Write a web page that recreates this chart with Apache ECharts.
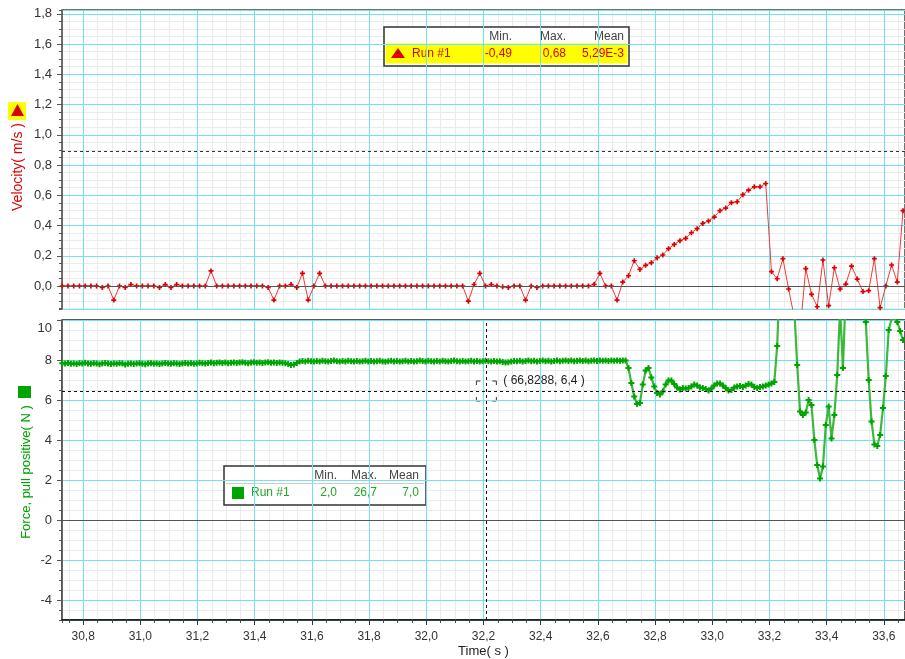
<!DOCTYPE html>
<html>
<head>
<meta charset="utf-8">
<script src="https://cdn.jsdelivr.net/npm/echarts@6/dist/echarts.min.js"></script>
<style>
html, body { margin: 0; padding: 0; background: #fff; }
#main { width: 905px; height: 659px; }
</style>
</head>
<body>
<div id="main"></div>
<script>
// sample clock of the logger
var timeStart = 30.727;
var velStep = 0.02;
var forceStep = 0.01;

// Velocity (m/s), one value per 0.02 s
var velocity = [
	0, 0, 0, 0, 0, 0, 0, -0.01, 0, -0.093,
	0, -0.01, 0.01, 0, 0, 0, 0, -0.01, 0.01, -0.01,
	0.01, 0, 0, 0, 0, 0, 0.10, 0, 0, 0,
	0, 0, 0, 0, 0, 0, -0.01, -0.093, 0, 0,
	0.01, -0.01, 0.084, -0.093, 0, 0.084, 0, 0, 0, 0,
	0, 0, 0, 0, 0, 0, 0, 0, 0, 0,
	0, 0, 0, 0, 0, 0, 0, 0, 0, 0,
	0, -0.10, 0.01, 0.084, 0, 0.01, 0, -0.005, -0.01, 0,
	0, -0.093, 0, -0.01, 0, 0, 0, 0, 0, 0,
	0, 0, 0, 0.011, 0.084, 0, 0, -0.093, 0.026, 0.068,
	0.167, 0.110, 0.137, 0.154, 0.187, 0.205, 0.247, 0.275, 0.300, 0.315,
	0.352, 0.379, 0.414, 0.430, 0.456, 0.498, 0.515, 0.551, 0.557, 0.604,
	0.634, 0.656, 0.656, 0.678, 0.095, 0.048, 0.181, -0.02, -0.21, -0.30,
	0.115, -0.055, -0.137, 0.172, -0.13, 0.121, -0.02, 0.013, 0.132, 0.046,
	-0.037, -0.031, 0.181, -0.143, 0.0, 0.139, 0.026, 0.498
];

// Force, pull positive (N), one value per 0.01 s
var force = [
	7.84, 7.82, 7.85, 7.81, 7.83, 7.80, 7.84, 7.82, 7.86, 7.83,
	7.81, 7.84, 7.82, 7.79, 7.83, 7.85, 7.82, 7.80, 7.83, 7.81,
	7.84, 7.82, 7.78, 7.81, 7.83, 7.80, 7.82, 7.84, 7.81, 7.79,
	7.82, 7.84, 7.81, 7.83, 7.80, 7.82, 7.85, 7.83, 7.81, 7.84,
	7.82, 7.80, 7.83, 7.85, 7.82, 7.84, 7.81, 7.83, 7.86, 7.84,
	7.82, 7.85, 7.87, 7.84, 7.86, 7.88, 7.85, 7.87, 7.84, 7.86,
	7.88, 7.85, 7.87, 7.89, 7.86, 7.84, 7.87, 7.89, 7.86, 7.88,
	7.85, 7.87, 7.89, 7.86, 7.88, 7.85, 7.87, 7.86, 7.84, 7.80,
	7.75, 7.77, 7.85, 7.92, 7.95, 7.93, 7.96, 7.94, 7.92, 7.95,
	7.93, 7.96, 7.94, 7.92, 7.95, 7.97, 7.94, 7.92, 7.95, 7.93,
	7.96, 7.94, 7.93, 7.95, 7.92, 7.94, 7.96, 7.93, 7.95, 7.92,
	7.94, 7.96, 7.93, 7.91, 7.94, 7.96, 7.93, 7.95, 7.92, 7.94,
	7.96, 7.93, 7.95, 7.92, 7.94, 7.97, 7.95, 7.93, 7.96, 7.94,
	7.92, 7.95, 7.93, 7.96, 7.94, 7.92, 7.95, 7.97, 7.94, 7.93,
	7.95, 7.92, 7.94, 7.96, 7.93, 7.95, 7.92, 7.94, 7.96, 7.94,
	7.93, 7.95, 7.92, 7.94, 7.90, 7.87, 7.89, 7.93, 7.95, 7.94,
	7.96, 7.93, 7.95, 7.97, 7.94, 7.96, 7.93, 7.95, 7.97, 7.94,
	7.96, 7.93, 7.95, 7.97, 7.94, 7.96, 7.98, 7.95, 7.97, 7.94,
	7.96, 7.98, 7.95, 7.97, 7.94, 7.96, 7.98, 7.95, 7.97, 7.96,
	7.98, 7.95, 7.97, 7.96, 7.98, 7.96, 7.97, 7.97, 7.60, 6.85,
	6.18, 5.80, 5.85, 6.77, 7.47, 7.60, 7.13, 6.68, 6.35, 6.27,
	6.43, 6.77, 6.98, 6.97, 6.80, 6.63, 6.52, 6.60, 6.57, 6.60,
	6.68, 6.77, 6.72, 6.63, 6.60, 6.55, 6.47, 6.57, 6.72, 6.82,
	6.83, 6.72, 6.60, 6.48, 6.50, 6.63, 6.68, 6.70, 6.65, 6.72,
	6.80, 6.77, 6.65, 6.60, 6.65, 6.68, 6.72, 6.77, 6.82, 6.90,
	8.70, 12.5, 14.0, 14.5, 13.5, 12.0, 10.5, 7.75, 5.42, 5.25,
	5.38, 6.00, 5.75, 4.00, 2.75, 2.08, 2.67, 4.75, 5.67, 4.08,
	5.25, 7.25, 10.6, 7.60, 11.5, 14.0, 15.0, 15.0, 14.0, 12.5,
	11.0, 9.90, 7.00, 4.92, 3.78, 3.70, 4.25, 5.60, 7.20, 9.50,
	10.05, 10.1, 9.90, 9.45, 9.00
];

var xRange = [30.726, 33.674];
var velRange = [-0.152, 1.825];
var forceRange = [-5, 10];
var velCursor = 0.892;
var cursorPoint = [32.21, 6.45];
var cursorText = '( 66,8288, 6,4 )';

var statHeads = ['Min.', 'Max.', 'Mean'];
var velStats = ['-0,49', '0,68', '5,29E-3'];
var forceStats = ['2,0', '26,7', '7,0'];
var runName = 'Run #1';
var velName = 'Velocity( m/s )';
var forceName = 'Force, pull positive( N )';
var timeName = 'Time( s )';

var RED = '#e00000';
var GREEN = '#00a400';
var CYAN = '#72e2ee';
var MINOR = '#ebebeb';
var FONT = '"Liberation Sans", Arial, sans-serif';
var plus = 'path://M2,0H4V2H6V4H4V6H2V4H0V2H2Z';

var velData = velocity.map(function(v, i){ return [timeStart + i * velStep, v]; });
var forceData = force.map(function(v, i){ return [timeStart + i * forceStep, v]; });

function comma1(v){ return v.toFixed(1).replace('.', ','); }

function minorX(grid, ticks){
	return {
		type: 'value', gridIndex: grid, position: 'bottom', min: xRange[0], max: xRange[1],
		splitNumber: 59, z: 0,
		axisLine: {show: false, onZero: false},
		axisTick: {show: ticks, length: 3, lineStyle: {color: '#555'}},
		axisLabel: {show: false},
		splitLine: {show: true, lineStyle: {color: MINOR, width: 1}}
	};
}
function minorY(grid, range, n){
	return {
		type: 'value', gridIndex: grid, position: 'left', min: range[0], max: range[1],
		splitNumber: n, z: 0,
		axisLine: {show: false, onZero: false},
		axisTick: {show: true, length: 3, lineStyle: {color: '#555'}},
		axisLabel: {show: false},
		splitLine: {show: true, lineStyle: {color: MINOR, width: 1}}
	};
}

var myChart = echarts.init(document.getElementById('main'));

var option = {
	animation: false,
	backgroundColor: '#fff',
	grid: [
		{left: 62, top: 10, width: 843, height: 299, outerBoundsMode: 'none', containLabel: false,
			show: true, borderColor: '#444', borderWidth: 1.5},
		{left: 62, top: 320, width: 843, height: 300, outerBoundsMode: 'none', containLabel: false,
			show: true, borderColor: '#222', borderWidth: 1.5}
	],
	xAxis: [
		minorX(0, false),
		minorX(1, true),
		{
			type: 'value', gridIndex: 0, position: 'bottom', min: xRange[0], max: xRange[1],
			splitNumber: 14, z: 1,
			axisLine: {show: false, onZero: false},
			axisTick: {show: false},
			axisLabel: {show: false},
			splitLine: {show: true, lineStyle: {color: CYAN, width: 1}}
		},
		{
			type: 'value', gridIndex: 1, position: 'bottom', min: xRange[0], max: xRange[1],
			splitNumber: 14, z: 1,
			name: timeName, nameLocation: 'middle', nameGap: 25,
			nameTextStyle: {color: '#222', fontSize: 13, fontFamily: FONT},
			axisLine: {show: true, onZero: false, lineStyle: {color: '#111', width: 1.5}},
			axisTick: {show: true, length: 5, lineStyle: {color: '#333'}},
			axisLabel: {
				show: true, margin: 11, color: '#333', fontSize: 12, fontFamily: FONT,
				showMinLabel: false, showMaxLabel: false,
				formatter: comma1
			},
			splitLine: {show: true, lineStyle: {color: CYAN, width: 1}}
		}
	],
	yAxis: [
		minorY(0, velRange, 40),
		minorY(1, forceRange, 30),
		{
			type: 'value', gridIndex: 0, position: 'left', min: velRange[0], max: velRange[1],
			splitNumber: 10, z: 1,
			axisLine: {show: true, onZero: false, lineStyle: {color: '#666', width: 1}},
			axisTick: {show: true, length: 5, lineStyle: {color: '#555'}},
			axisLabel: {
				show: true, margin: 10, color: '#333', fontSize: 13, fontFamily: FONT,
				showMinLabel: false, showMaxLabel: false,
				formatter: comma1
			},
			splitLine: {show: true, lineStyle: {color: CYAN, width: 1}}
		},
		{
			type: 'value', gridIndex: 1, position: 'left', min: forceRange[0], max: forceRange[1],
			splitNumber: 7, z: 1,
			axisLine: {show: true, onZero: false, lineStyle: {color: '#666', width: 1}},
			axisTick: {show: true, length: 5, lineStyle: {color: '#555'}},
			axisLabel: {
				show: true, margin: 10, color: '#333', fontSize: 13, fontFamily: FONT,
				showMinLabel: false, showMaxLabel: true,
				// top label sits a little below the panel edge, as in the original
				formatter: function(v){ return v === forceRange[1] ? '{t|' + v + '}' : String(v); },
				rich: {t: {padding: [16, 0, 0, 0], color: '#333', fontSize: 13, fontFamily: FONT}}
			},
			splitLine: {show: true, lineStyle: {color: CYAN, width: 1}}
		}
	],
	series: [
		{
			type: 'line', name: 'Velocity', xAxisIndex: 2, yAxisIndex: 2,
			data: velData, z: 3,
			symbol: plus, symbolSize: 5, showSymbol: true,
			lineStyle: {color: '#ee3a3a', width: 1},
			itemStyle: {color: '#dd0000'},
			markLine: {
				silent: true, symbol: 'none', label: {show: false}, animation: false,
				data: [
					{yAxis: 0, lineStyle: {color: '#555', type: 'solid', width: 1.2}},
					{yAxis: velCursor, lineStyle: {color: '#333', type: [3, 3], width: 1}}
				]
			}
		},
		{
			type: 'line', name: 'Force', xAxisIndex: 3, yAxisIndex: 3,
			data: forceData, z: 3,
			symbol: plus, symbolSize: 6, showSymbol: true,
			lineStyle: {color: '#3cb83c', width: 2.2},
			itemStyle: {color: GREEN},
			markLine: {
				silent: true, symbol: 'none', label: {show: false}, animation: false,
				data: [
					{yAxis: 0, lineStyle: {color: '#555', type: 'solid', width: 1.2}},
					{yAxis: cursorPoint[1], lineStyle: {color: '#111', type: [3, 3], width: 1}},
					{xAxis: cursorPoint[0], lineStyle: {color: '#111', type: [3, 3], width: 1}}
				]
			}
		}
	]
};
myChart.setOption(option);

// legends, axis names and axis icons
function statBox(x, y, w, stats, cols, color, rowFill, icon){
	var kids = [
		{type: 'rect', shape: {x: x, y: y, width: w, height: 39}, style: {fill: '#fff', stroke: '#333', lineWidth: 1.5}},
		{type: 'rect', shape: {x: x + 2, y: y + 17, width: w - 4, height: 19}, style: {fill: rowFill, stroke: rowFill === '#fff' ? null : rowFill}},
		{type: 'text', x: x + cols[3], y: y + 26.5, style: {text: runName, fill: color, font: '12px ' + FONT, verticalAlign: 'middle'}},
		icon
	];
	for (var k = 0; k < 3; k++) {
		kids.push({type: 'text', x: x + cols[k], y: y + 10, style: {text: statHeads[k], fill: '#444', font: '12px ' + FONT, align: 'right', verticalAlign: 'middle'}});
		kids.push({type: 'text', x: x + cols[k], y: y + 26.5, style: {text: stats[k], fill: color, font: '12px ' + FONT, align: 'right', verticalAlign: 'middle'}});
	}
	return {type: 'group', children: kids};
}

var graphics = [
	statBox(384, 27, 245, velStats, [128, 182, 240, 28], RED, '#ffff00',
		{type: 'polygon', shape: {points: [[391, 58], [405, 58], [398, 48]]}, style: {fill: '#dd0000'}}),
	statBox(224, 466, 202, forceStats, [113, 153, 195, 27], '#22a822', '#fff',
		{type: 'rect', shape: {x: 232, y: 487, width: 12, height: 12}, style: {fill: GREEN}}),
	{type: 'line', shape: {x1: 226, y1: 483.5, x2: 424, y2: 483.5}, style: {stroke: '#ccc', lineWidth: 1}},
	{type: 'text', x: 18, y: 167, rotation: Math.PI / 2,
		style: {text: velName, fill: RED, font: '14px ' + FONT, align: 'center', verticalAlign: 'middle'}},
	{type: 'text', x: 26, y: 472, rotation: Math.PI / 2,
		style: {text: forceName, fill: GREEN, font: '13px ' + FONT, align: 'center', verticalAlign: 'middle'}},
	{type: 'rect', shape: {x: 8, y: 102, width: 18, height: 18}, style: {fill: '#ffff00'}},
	{type: 'polygon', shape: {points: [[11, 116], [24, 116], [17.5, 104]]}, style: {fill: '#dd0000'}},
	{type: 'rect', shape: {x: 18, y: 386, width: 13, height: 12}, style: {fill: GREEN}}
];

// cursor brackets around the read-out point
var c = myChart.convertToPixel({xAxisIndex: 3, yAxisIndex: 3}, cursorPoint);
var d = 10, a = 4;
[[-1, -1], [1, -1], [-1, 1], [1, 1]].forEach(function(s){
	var cx = c[0] + s[0] * d, cy = c[1] + s[1] * d;
	graphics.push({type: 'polyline', shape: {points: [[cx - s[0] * a, cy], [cx, cy], [cx, cy - s[1] * a]]},
		style: {stroke: '#333', lineWidth: 1, fill: null}});
});
graphics.push({type: 'text', x: c[0] + 17, y: c[1] - 10,
	style: {text: cursorText, fill: '#222', font: '12px ' + FONT, verticalAlign: 'middle'}});

myChart.setOption({graphic: graphics});
</script>
</body>
</html>
